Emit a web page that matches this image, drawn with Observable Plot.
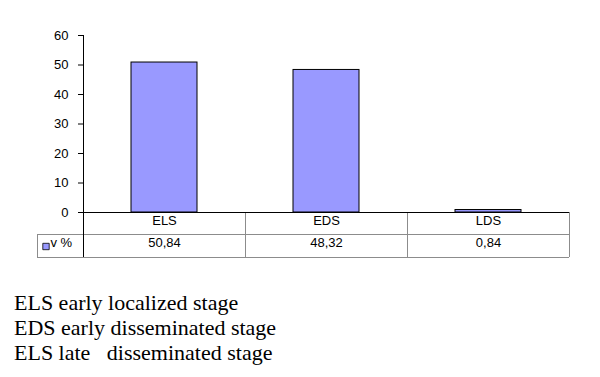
<!DOCTYPE html>
<html>
<head>
<meta charset="utf-8">
<script src="https://cdn.jsdelivr.net/npm/d3@7"></script>
<script src="https://cdn.jsdelivr.net/npm/@observablehq/plot@0.6"></script>
<style>
  html, body { margin: 0; padding: 0; background: #fff; }
  #chart svg { display: block; }
  #caption {
    margin: 28px 0 0 14px;
    font-family: "Liberation Serif", "Times New Roman", serif;
    font-size: 22px;
    line-height: 25px;
    color: #000;
    white-space: pre;
  }
</style>
</head>
<body>
<div id="chart"></div>
<div id="caption"></div>
<script>
const categories = ["ELS", "EDS", "LDS"];
const values = [50.84, 48.32, 0.84];
const seriesName = "v %";
const yTicks = [0, 10, 20, 30, 40, 50, 60];
const captionLines = [
  "ELS early localized stage",
  "EDS early disseminated stage",
  "ELS late   disseminated stage"
];

const data = categories.map((c, i) => ({cat: c, v: values[i]}));
const fmt = v => v.toFixed(2).replace(".", ",");

const W = 600, H = 262, mL = 83, mR = 31, mT = 35, mB = 50;
const row1 = 22, row2 = 45, legendLeft = 37;
const barFill = "#9999ff";
const font = "Liberation Sans, Arial, sans-serif";
const fs = 13;

function tableGrid(index, scales, values, dims) {
  const x = scales.x, y = scales.y;
  const bw = x.bandwidth ? x.bandwidth() : (dims.width - dims.marginLeft - dims.marginRight) / categories.length;
  const xs = categories.map(c => x(c));
  const xEnd = xs[xs.length - 1] + bw;
  const y0 = y(0);
  const g = d3.create("svg:g").attr("fill", "none").attr("shape-rendering", "crispEdges");
  const line = (x1, y1, x2, y2, color) =>
    g.append("line").attr("x1", x1).attr("y1", y1).attr("x2", x2).attr("y2", y2)
      .attr("stroke", color).attr("stroke-width", 1);
  line(xs[0], y0 + row1 + 0.5, xEnd, y0 + row1 + 0.5, "#8c8c8c");
  line(legendLeft, y0 + row2 + 0.5, xEnd, y0 + row2 + 0.5, "#8c8c8c");
  line(legendLeft, y0 + row1 + 0.5, xs[0], y0 + row1 + 0.5, "#8c8c8c");
  xs.slice(1).forEach(xx => line(xx + 0.5, y0, xx + 0.5, y0 + row2, "#8c8c8c"));
  line(xEnd + 0.5, y0, xEnd + 0.5, y0 + row2, "#8c8c8c");
  line(legendLeft + 0.5, y0 + row1, legendLeft + 0.5, y0 + row2, "#8c8c8c");
  line(xs[0], y0 + 0.5, xEnd, y0 + 0.5, "#000");
  line(xs[0] + 0.5, y(d3.max(yTicks)), xs[0] + 0.5, y0 + row2, "#000");
  return g.node();
}

const plot = Plot.plot({
  width: W,
  height: H,
  marginLeft: mL,
  marginRight: mR,
  marginTop: mT,
  marginBottom: mB,
  style: {fontFamily: font, fontSize: fs + "px", color: "#000", background: "#fff"},
  x: {type: "band", domain: categories, padding: 0, axis: null},
  y: {domain: [0, 60], axis: null},
  marks: [
    Plot.barY(data, {x: "cat", y: "v", fill: barFill, stroke: "#000", strokeWidth: 1, insetLeft: 48, insetRight: 48}),
    Plot.axisY({ticks: yTicks, tickSize: 5, tickPadding: 10, fontSize: fs, label: null, tickFormat: d => d}),
    tableGrid,
    Plot.text(data, {x: "cat", frameAnchor: "bottom", dy: row1 / 2 + 1, text: "cat", fontSize: fs, fill: "#000"}),
    Plot.text(data, {x: "cat", frameAnchor: "bottom", dy: (row1 + row2) / 2 + 1, text: d => fmt(d.v), fontSize: fs, fill: "#000"}),
    Plot.dot([seriesName], {frameAnchor: "bottom-left", dx: -37.5, dy: (row1 + row2) / 2 + 0.5, symbol: "square", r: 3.6, fill: barFill, stroke: "#000", strokeWidth: 0.8}),
    Plot.text([seriesName], {frameAnchor: "bottom-left", dx: -33, dy: (row1 + row2) / 2 + 1, text: d => d, textAnchor: "start", fontSize: fs, fill: "#000"})
  ]
});

document.getElementById("chart").appendChild(plot);
document.getElementById("caption").textContent = captionLines.join("\n");
</script>
</body>
</html>
